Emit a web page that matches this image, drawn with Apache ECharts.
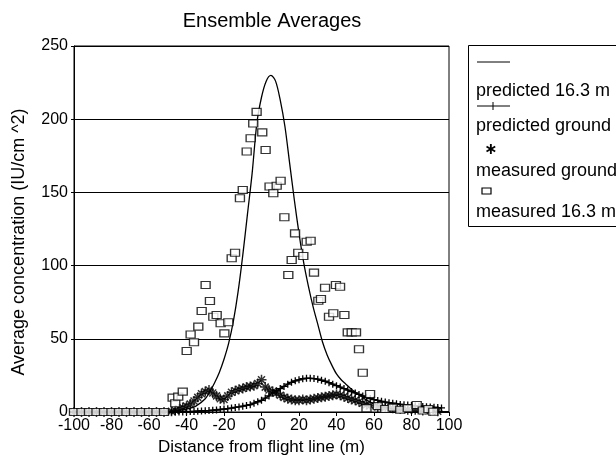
<!DOCTYPE html>
<html>
<head>
<meta charset="utf-8">
<script src="https://cdn.jsdelivr.net/npm/echarts@6/dist/echarts.min.js"></script>
<style>
html,body{margin:0;padding:0;background:#fff;}
#chart{width:616px;height:455px;}
</style>
</head>
<body>
<div id="chart"></div>
<script>
// Predicted concentration at 16.3 m (smooth curve)
const predHighX = [-100,-80,-60,-50,-45,-40,-35,-30,-27.5,-25,-22.5,-20,-17.5,-15,-12.5,-10,-7.5,-5,-2.5,0,2.5,5,7.5,10,12.5,15,17.5,20,22.5,25,27.5,30,32.5,35,37.5,40,42.5,45,47.5,50,55,60,65,70,75,80,90,100];
const predHighY = [0,0,0.2,0.5,1,2,4,9,14,20,27,36,47,62,82,107,135,163,197,215,226,230,226,213,195,170,145,122,102,86,72,60,48,39,32,26,22,19,16,13.5,9,5.5,3.5,2,1.3,0.8,0.4,0.2];

// Predicted concentration at ground
const predGroundX = [-100,-98,-96,-94,-92,-90,-88,-86,-84,-82,-80,-78,-76,-74,-72,-70,-68,-66,-64,-62,-60,-58,-56,-54,-52,-50,-48,-46,-44,-42,-40,-38,-36,-34,-32,-30,-28,-26,-24,-22,-20,-18,-16,-14,-12,-10,-8,-6,-4,-2,0,2,4,6,8,10,12,14,16,18,20,22,24,26,28,30,32,34,36,38,40,42,44,46,48,50,52,54,56,58,60,62,64,66,68,70,72,74,76,78,80,82,84,86,88,90,92,94,96];
const predGroundY = [0,0,0,0,0,0,0,0,0,0,0,0,0,0,0,0,0,0,0,0,0,0,0,0,0,0,0,0,0,0,0.2,0.3,0.4,0.5,0.7,0.8,1,1.2,1.4,1.7,2,2.3,2.7,3.1,3.5,4,4.5,5,6,7,8,9.5,11,13,14.5,16,17.5,19,20.3,21.3,22,22.7,23,23,22.8,22.4,21.7,21,20,19,18,17,16,15,14,13,12,11,10,9.2,8.5,7.9,7.3,6.8,6.3,6,5.6,5.2,5,4.7,4.5,4.2,4,3.8,3.6,3.4,3.2,3,2.8];

// Measured concentration at ground
const measGroundX = [-100,-96,-92,-88,-84,-80,-76,-72,-68,-64,-60,-56,-52,-48,-46,-44,-42,-40,-38,-36,-34,-32,-30,-28,-26,-24,-22,-20,-18,-16,-14,-12,-10,-8,-6,-4,-2,0,2,4,6,8,10,12,14,16,18,20,22,24,26,28,30,32,34,36,38,40,42,44,46,48,50,52,54,56,58,62,66,70,74,78,82,86,90,94];
const measGroundY = [0,0,0,0,0,0,0,0,0,0,0,0,0,0.5,1,2,3,4,5.5,7.5,10,12.5,14,15,13,11,9,8.5,11,13.5,14.5,15.5,16,17,17.5,18,19.5,22,17,15,14,13,11.5,10,9,8.5,8,8,8.5,8,8.5,9,9.5,10,10.5,11,11.5,12,11.5,10.5,9.5,8.5,8,7,6,5,4.5,3.5,3,2.5,2,1.5,1.5,1,1,0.5];

// Measured concentration at 16.3 m
const measHighX = [-100,-96,-92,-88,-84,-80,-76,-72,-68,-64,-60,-56,-52,-47.4,-46,-44.4,-42,-39.9,-37.8,-36,-33.7,-31.9,-29.8,-27.5,-25.7,-23.9,-21.8,-19.8,-17.7,-15.9,-14.1,-11.5,-10,-7.9,-5.8,-4.4,-2.6,0.4,2.2,4.3,6.3,8.1,10.2,12.2,14.3,16.1,17.9,19.6,22.3,24.1,26.2,28,30.3,31.7,33.9,36,38.3,39.7,41.9,44.2,46,48.1,50.4,52,54,56,57.9,62,66,70,74,78,82.8,86,89,91.6];
const measHighY = [0,0,0,0,0,0,0,0,0,0,0,0,0,9.8,6,10.5,13.9,41.7,53,47.6,58.3,69,86.7,75.8,65,66.3,60.6,53.7,61.3,105,108.8,146,151.6,178,187,197,205,191,179,154,149.4,154.6,158,133,93.6,103.8,122,108.8,106.6,116.3,117,95.2,76,77.2,84.9,65,67.4,86.7,85.6,66.3,54.4,54.4,54.4,42.8,26.8,2.5,12.3,4,2,3,1.5,2.5,4.8,1,2,0.2];

const xTicks = {min: -100, max: 100, interval: 20};
const yTicks = {min: 0, max: 250, interval: 50};

const pairs = (xs, ys) => xs.map((x, i) => [x, ys[i]]);

const asterisk = 'path://M5,0L5,10M0,5L10,5M1.5,1.5L8.5,8.5M8.5,1.5L1.5,8.5';
const plus = 'path://M5,0L5,10M0,5L10,5';

const chart = echarts.init(document.getElementById('chart'), null, {renderer: 'canvas'});
const font = 'Liberation Sans, Arial, Helvetica, sans-serif';

chart.setOption({
  animation: false,
  backgroundColor: '#fff',
  textStyle: {fontFamily: font, color: '#000'},
  title: {
    text: 'Ensemble Averages',
    left: 267, top: 6, textAlign: 'center',
    textStyle: {fontFamily: font, fontSize: 20, fontWeight: 'normal', color: '#000'}
  },
  grid: {left: 74, right: 167, top: 46, bottom: 43, show: true, borderColor: '#000', borderWidth: 1,
    containLabel: false, outerBoundsMode: 'none'},
  xAxis: {
    type: 'value', min: xTicks.min, max: xTicks.max, interval: xTicks.interval,
    name: 'Distance from flight line (m)', nameLocation: 'middle', nameGap: 27,
    nameTextStyle: {fontFamily: font, fontSize: 17, color: '#000'},
    axisLine: {show: true, onZero: false, lineStyle: {color: '#000', width: 1}},
    axisTick: {show: true, inside: false, length: 4, lineStyle: {color: '#000'}},
    axisLabel: {fontFamily: font, fontSize: 16, color: '#000', margin: 6},
    splitLine: {show: false}
  },
  yAxis: {
    type: 'value', min: yTicks.min, max: yTicks.max, interval: yTicks.interval,
    name: 'Average concentration (IU/cm ^2)', nameLocation: 'middle', nameGap: 46,
    nameTextStyle: {fontFamily: font, fontSize: 18, color: '#000', padding: [0, 26, 0, 0]},
    axisLine: {show: true, onZero: false, lineStyle: {color: '#000', width: 1}},
    axisTick: {show: true, length: 3, lineStyle: {color: '#000'}},
    axisLabel: {fontFamily: font, fontSize: 16, color: '#000', margin: 6},
    splitLine: {show: true, lineStyle: {color: '#000', width: 1}}
  },
  series: [
    {
      name: 'predicted 16.3 m', type: 'line', smooth: 0.3, showSymbol: false,
      lineStyle: {color: '#000', width: 1.3},
      data: pairs(predHighX, predHighY), z: 3
    },
    {
      name: 'predicted ground', type: 'line', smooth: 0.3,
      symbol: plus, symbolSize: 7, showAllSymbol: true,
      lineStyle: {color: '#000', width: 1.5},
      itemStyle: {color: 'none', borderColor: '#000', borderWidth: 1.3},
      data: pairs(predGroundX, predGroundY), z: 4
    },
    {
      name: 'measured ground', type: 'scatter',
      symbol: asterisk, symbolSize: 10,
      itemStyle: {color: 'none', borderColor: '#000', borderWidth: 1.5},
      data: pairs(measGroundX, measGroundY), z: 5
    },
    {
      name: 'measured 16.3 m', type: 'scatter',
      symbol: 'rect', symbolSize: [9, 7],
      itemStyle: {color: '#fff', borderColor: '#000', borderWidth: 1.2},
      data: pairs(measHighX, measHighY), z: 6
    }
  ],
  graphic: [
    {type: 'rect', left: 468, top: 45, shape: {width: 170, height: 181},
      style: {fill: '#fff', stroke: '#000', lineWidth: 1}},
    {type: 'line', shape: {x1: 477, y1: 62, x2: 510, y2: 62}, style: {stroke: '#000', lineWidth: 1}},
    {type: 'text', left: 476, top: 82, style: {text: 'predicted 16.3 m', font: '18px ' + font, fill: '#000'}},
    {type: 'line', shape: {x1: 477, y1: 106, x2: 510, y2: 106}, style: {stroke: '#000', lineWidth: 1}},
    {type: 'line', shape: {x1: 493, y1: 102, x2: 493, y2: 110}, style: {stroke: '#000', lineWidth: 1}},
    {type: 'text', left: 476, top: 117, style: {text: 'predicted ground', font: '18px ' + font, fill: '#000'}},
    {type: 'text', left: 484, top: 142, style: {text: '\u2217', font: 'bold 16px DejaVu Sans', fill: '#000'}},
    {type: 'text', left: 476, top: 162, style: {text: 'measured ground', font: '18px ' + font, fill: '#000'}},
    {type: 'rect', shape: {x: 482, y: 188, width: 9, height: 6}, style: {fill: '#fff', stroke: '#000', lineWidth: 1.2}},
    {type: 'text', left: 476, top: 203, style: {text: 'measured 16.3 m', font: '18px ' + font, fill: '#000'}}
  ]
});
</script>
</body>
</html>
